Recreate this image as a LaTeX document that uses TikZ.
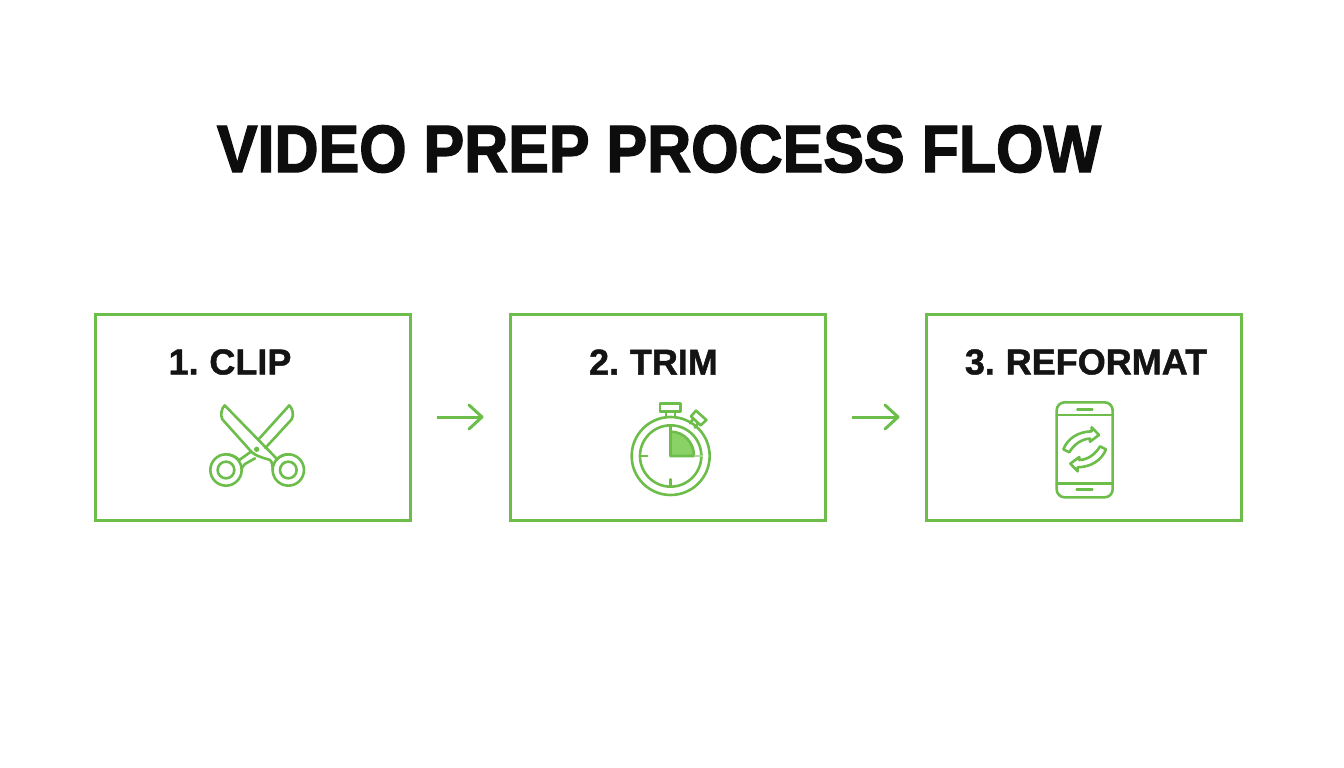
\documentclass[tikz,border=0pt]{standalone}
\usepackage{fontspec}
\usetikzlibrary{arrows.meta}
\setmainfont{Liberation Sans}[BoldFont={Liberation Sans Bold}]
\newfontfamily\titlefont{Liberation Sans Bold}[FakeStretch=0.91,FakeBold=2]
\newfontfamily\labelfont{Liberation Sans Bold}[FakeBold=1.2,WordSpace=0.75]
\definecolor{vgreen}{HTML}{6CBD4A}
\definecolor{vfill}{HTML}{8AD166}
\tikzset{
  stepbox/.style={draw=vgreen,line width=3pt,minimum width=315pt,minimum height=206pt,inner sep=0pt},
  flow/.style={draw=vgreen,line width=3pt,shorten <=25pt,shorten >=25pt,-{Straight Barb[length=13pt,width=24pt,line width=3pt,round]}},
  steplabel/.style={font=\labelfont\fontsize{36}{36}\selectfont,text=black!92,inner sep=0pt,anchor=center},
  icon/.style={draw=vgreen,line width=2.6pt,line join=round,line cap=round,fill=none}
}
\begin{document}
\begin{tikzpicture}[x=1pt,y=-1pt]
\useasboundingbox[fill=white] (0,0) rectangle (1344,768);
\node[font=\titlefont\fontsize{67}{67}\selectfont,text=black!95,inner sep=0pt] (title) at (659,149) {VIDEO PREP PROCESS FLOW};
\node[stepbox] (b1) at (252.5,417) {};
\node[stepbox] (b2) at (667.5,417) {};
\node[stepbox] (b3) at (1083.5,417) {};
\draw[flow] (b1.east) -- (b2.west);
\draw[flow] (b2.east) -- (b3.west);
\node[steplabel] (l1) at (230,362) {1. CLIP};
\node[steplabel] (l2) at (653.5,362) {2. TRIM};
\node[steplabel] (l3) at (1086,362) {3. REFORMAT};
% scissors
\begin{scope}[shift={(190,390)},x=0.3333pt,y=-0.3333pt]
 \draw[icon] (104,46) -- (262,208) .. controls (268,198) and (285,193) .. (295,193);
 \draw[icon] (295,240) circle[radius=47];
 \draw[icon] (104,46) .. controls (95,55) and (90,75) .. (97,88) -- (183,184) .. controls (195,198) and (225,205) .. (240,210) .. controls (247,216) and (248,228) .. (248,240);
 \draw[icon] (295,240) circle[radius=25];
 \draw[icon] (298,46) -- (204,150);
 \draw[icon] (298,46) .. controls (307,55) and (313,75) .. (305,88) -- (226,174);
 \draw[icon] (183,185) -- (148,210) .. controls (135,198) and (120,193) .. (108,193);
 \draw[icon] (108,240) circle[radius=47];
 \draw[icon] (108,240) circle[radius=25];
 \draw[icon] (195,205) -- (165,222) .. controls (157,228) and (155,235) .. (155,240);
 \fill[vgreen] (200,178) circle[radius=8];
\end{scope}
% stopwatch
\begin{scope}[shift={(610,390)},x=0.3333pt,y=-0.3333pt]
 \fill[vfill] (182,198) -- (182,125) .. controls (222,125) and (252,158) .. (252,198) -- cycle;
 \draw[icon] (182,198) -- (182,106);
 \draw[icon] (182,125) .. controls (222,125) and (252,158) .. (252,198) -- (182,198);
 \draw[icon] (182,198) circle[radius=117];
 \draw[icon] (182,198) circle[radius=92];
 \draw[icon] (150,40) rectangle (212,65);
 \draw[icon] (168,65) -- (168,82);
 \draw[icon] (195,65) -- (195,82);
 \draw[icon] (258,62) -- (289,90) -- (272,106) -- (243,79) -- cycle;
 \draw[icon] (250,86) -- (240,100);
 \draw[icon] (264,100) -- (254,113);
 \draw[icon] (92,198) -- (112,198);
 \draw[icon,draw=vgreen!55] (255,198) -- (274,198);
 \draw[icon] (182,268) -- (182,288);
\end{scope}
% phone
\begin{scope}[shift={(1035,390)},x=0.3333pt,y=-0.3333pt]
 \draw[icon,rounded corners=8pt] (65,37) rectangle (233,322);
 \draw[icon] (65,75) -- (233,75);
 \draw[icon] (65,280) -- (233,280);
 \draw[icon] (127,58) -- (172,58);
 \draw[icon] (125,298) -- (172,298);
 \draw[icon] (85,178) .. controls (98,145) and (130,125) .. (170,124) -- (170,112) -- (192,135) -- (165,155) -- (165,146) .. controls (140,146) and (115,165) .. (103,187) -- cycle;
 \draw[icon] (213,178) .. controls (200,211) and (168,231) .. (128,232) -- (128,244) -- (106,221) -- (133,201) -- (133,210) .. controls (158,210) and (183,191) .. (195,169) -- cycle;
\end{scope}
\end{tikzpicture}
\end{document}
